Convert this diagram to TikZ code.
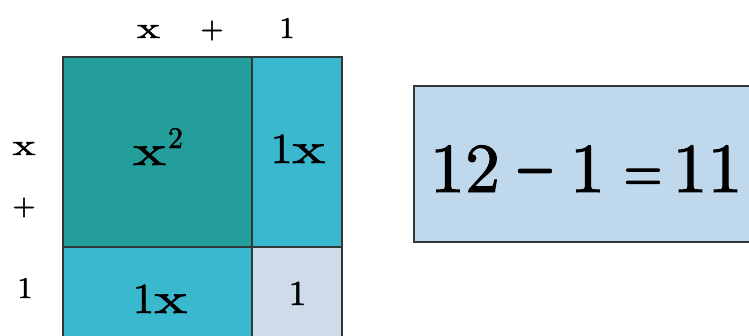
\documentclass[tikz,border=0pt]{standalone}
\usepackage{fontspec}
\usepackage{graphicx}
\setmainfont{lmroman10-regular.otf}[FakeBold=1.4]
\definecolor{darkteal}{RGB}{36,158,154}
\definecolor{cyancell}{RGB}{58,184,206}
\definecolor{palecell}{RGB}{206,220,234}
\definecolor{eqfill}{RGB}{192,216,236}
\definecolor{edge}{RGB}{50,55,55}
\newcommand{\wx}{\scalebox{1.45}[1]{x}}
\begin{document}
\begin{tikzpicture}[x=1pt,y=-1pt,
  cell/.style={draw=edge,line width=1.3pt},
  lab/.style={inner sep=0pt,anchor=base,font=\fontsize{30}{32}\selectfont\bfseries},
  celltext/.style={inner sep=0pt,anchor=base,font=\fontsize{43}{46}\selectfont\bfseries},
  eqtext/.style={inner sep=0pt,anchor=base,font=\fontsize{70}{76}\selectfont\bfseries}]
\useasboundingbox (0,0) rectangle (749,335);
\fill[white] (0,0) rectangle (749,335);
% cells
\draw[cell,fill=darkteal] (63,57) rectangle (252,247);
\draw[cell,fill=cyancell] (252,57) rectangle (342,247);
\draw[cell,fill=cyancell] (63,247) rectangle (252,340);
\draw[cell,fill=palecell] (252,247) rectangle (342,340);
\node[celltext] (xsq) at (158,165) {\wx\hspace{2pt}\raisebox{17pt}{\fontsize{30}{32}\selectfont\bfseries 2}};
\node[celltext] (rx) at (298,163) {1\wx};
\node[celltext] (bx) at (160,313) {1\wx};
\node[inner sep=0pt,anchor=base,font=\fontsize{35}{38}\selectfont\bfseries] (one) at (297.5,305) {1};
% top labels
\node[lab] (tx) at (148.5,38) {\wx};
\node[lab] (tp) at (212,38) {+};
\node[lab] (t1) at (287,38) {1};
% left labels
\node[lab] (lx) at (24,155) {\wx};
\node[lab] (lp) at (24,215) {+};
\node[lab] (l1) at (25,298) {1};
% equation box
\draw[cell,fill=eqfill] (414,86) rectangle (760,242);
\node[eqtext] (eqa) at (465,192) {12};
\node[eqtext] (eqb) at (535,192) {\scalebox{0.72}[1.2]{−}};
\node[eqtext] (eqc) at (587.5,192) {1};
\node[eqtext] (eqd) at (643,192) {\scalebox{0.72}[0.9]{=}};
\node[eqtext] (eqe) at (707.5,192) {11};
\end{tikzpicture}
\end{document}
